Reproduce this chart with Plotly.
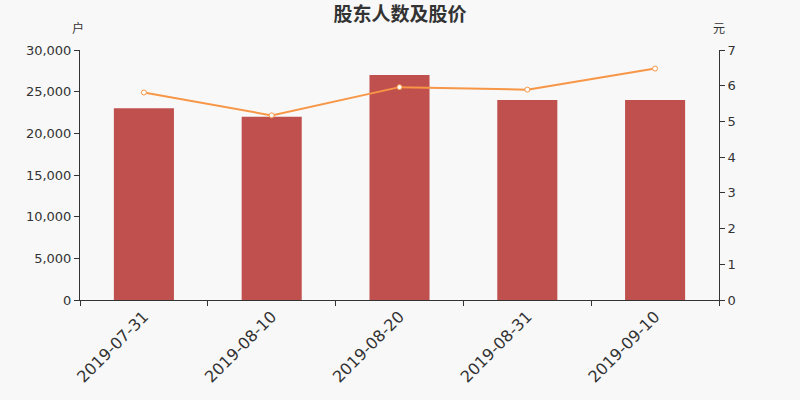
import plotly.graph_objects as go

# data
dates = ["2019-07-31", "2019-08-10", "2019-08-20", "2019-08-31", "2019-09-10"]
holders = [23000, 22000, 27000, 24000, 24000]
price = [5.81, 5.17, 5.96, 5.89, 6.48]

FONT = "DejaVu Sans, Noto Sans CJK SC"

fig = go.Figure()

fig.add_trace(go.Bar(
    x=dates,
    y=holders,
    name="股东人数",
    marker=dict(color="#c0504d", line=dict(width=0)),
    width=0.47,
))

fig.add_trace(go.Scatter(
    x=dates,
    y=price,
    name="股价",
    yaxis="y2",
    mode="lines+markers",
    line=dict(color="#f79646", width=2),
    marker=dict(size=5, color="white", line=dict(color="#f79646", width=1)),
))

fig.update_layout(
    width=800,
    height=400,
    paper_bgcolor="#f8f8f8",
    plot_bgcolor="#f8f8f8",
    showlegend=False,
    margin=dict(l=80, r=81, t=50, b=100, autoexpand=False),
    font=dict(family=FONT, color="#333333", size=13),
    title=dict(
        text="<b>股东人数及股价</b>",
        x=0.5,
        xanchor="center",
        y=0.965,
        yanchor="middle",
        font=dict(size=19, color="#333333", family="Noto Sans CJK SC"),
    ),
    xaxis=dict(
        type="category",
        automargin=False,
        showgrid=False,
        showline=True,
        linecolor="#333333",
        linewidth=1,
        ticks="outside",
        tickson="boundaries",
        ticklen=5,
        tickcolor="#333333",
        tickangle=-45,
        tickfont=dict(size=16, color="#333333"),
        zeroline=False,
    ),
    yaxis=dict(
        range=[0, 30000],
        dtick=5000,
        tickformat=",d",
        automargin=False,
        showgrid=False,
        showline=True,
        linecolor="#333333",
        linewidth=1,
        ticks="outside",
        ticklen=5,
        tickcolor="#333333",
        zeroline=False,
        tickfont=dict(size=13, color="#333333"),
    ),
    yaxis2=dict(
        range=[0, 7],
        dtick=1,
        overlaying="y",
        side="right",
        automargin=False,
        showgrid=False,
        showline=True,
        linecolor="#333333",
        linewidth=1,
        ticks="outside",
        ticklen=5,
        tickcolor="#333333",
        zeroline=False,
        tickfont=dict(size=13, color="#333333"),
    ),
    annotations=[
        dict(text="户", x=-0.003, xref="paper", y=1.088, yref="paper",
             xanchor="center", yanchor="middle", showarrow=False,
             font=dict(size=12, color="#333333", family="Noto Sans CJK SC")),
        dict(text="元", x=1, xref="paper", y=1.088, yref="paper",
             xanchor="center", yanchor="middle", showarrow=False,
             font=dict(size=12, color="#333333", family="Noto Sans CJK SC")),
    ],
)

# page body has a default 8px margin; drop it so the chart sits at 0,0
fig.write_html("out.html", config={"displayModeBar": False},
               post_script="document.body.style.margin='0';")
